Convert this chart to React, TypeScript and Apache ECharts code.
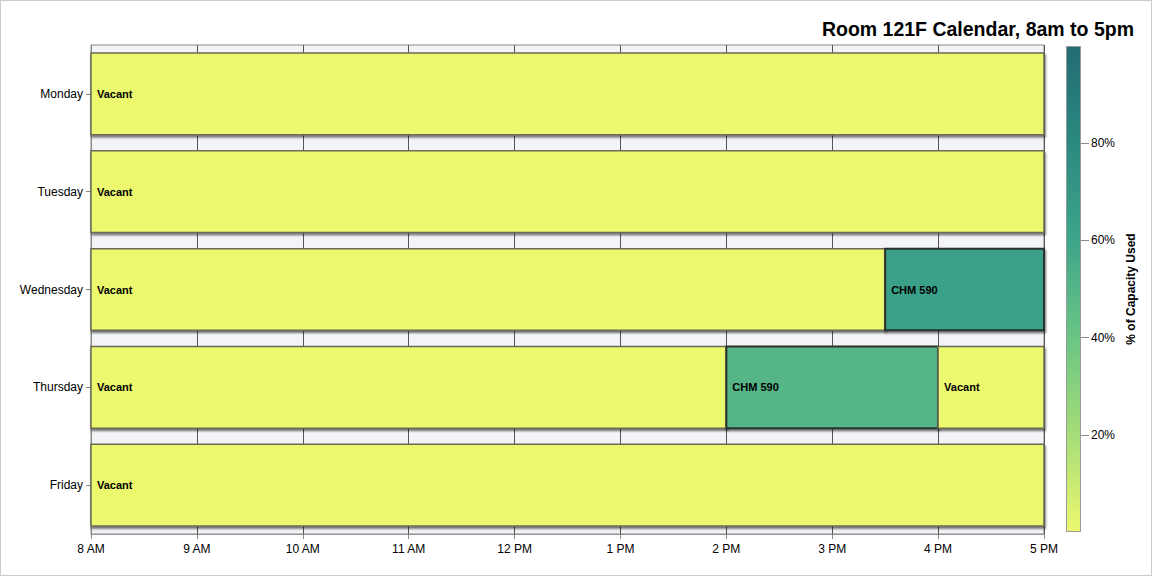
import React, { useEffect, useRef } from "react";
import * as echarts from "echarts";

const days = ["Monday", "Tuesday", "Wednesday", "Thursday", "Friday"];
const hourTicks = [8, 9, 10, 11, 12, 13, 14, 15, 16, 17];
const hourLabels = ["8 AM", "9 AM", "10 AM", "11 AM", "12 PM", "1 PM", "2 PM", "3 PM", "4 PM", "5 PM"];

const segDay = [0, 1, 2, 2, 3, 3, 3, 4];
const segStart = [8, 8, 8, 15.5, 8, 14, 16, 8];
const segEnd = [17, 17, 15.5, 17, 14, 16, 17, 17];
const segLabel = ["Vacant", "Vacant", "Vacant", "CHM 590", "Vacant", "CHM 590", "Vacant", "Vacant"];
const segCapacity = [0, 0, 0, 64, 0, 50, 0, 0];

const legendTicks = [20, 40, 60, 80];
const rampColors = ["#ecf86e", "#a5dd78", "#6ac584", "#3ea58a", "#2a8a80", "#236b73"];

export default function App() {
  const ref = useRef<HTMLDivElement>(null);
  useEffect(() => {
    document.body.style.margin = "0";
    const chart = echarts.init(ref.current!, null, { renderer: "svg" });
    const data = segDay.map((d, i) => [d, segStart[i], segEnd[i], segCapacity[i], segLabel[i]]);
    const font = "Arial, 'Liberation Sans', sans-serif";
    chart.setOption({
      animation: false,
      backgroundColor: "#fff",
      title: {
        text: "Room 121F Calendar, 8am to 5pm",
        right: 12,
        top: 13,
        textStyle: { fontSize: 19.5, fontWeight: "bold", color: "#000", fontFamily: font },
      },
      visualMap: {
        show: false,
        type: "continuous",
        min: 0,
        max: 100,
        dimension: 3,
        seriesIndex: 0,
        inRange: { color: rampColors },
      },
      grid: [
        {
          left: 90,
          right: 107,
          top: 44,
          bottom: 41,
          show: true,
          backgroundColor: "#f3f4f7",
          borderColor: "#888",
          borderWidth: 1,
        },
        { left: 1065, width: 15, top: 45, bottom: 43, show: false },
      ],
      xAxis: [
        {
          type: "value",
          gridIndex: 0,
          min: 8,
          max: 17,
          interval: 1,
          axisLine: { show: true, lineStyle: { color: "#999" } },
          axisTick: { show: true, length: 5, lineStyle: { color: "#888" } },
          axisLabel: {
            color: "#000",
            fontSize: 12,
            fontFamily: font,
            margin: 9,
            formatter: (v: number) => hourLabels[hourTicks.indexOf(v)] ?? "",
          },
          splitLine: { show: true, lineStyle: { color: "#555", width: 1 } },
        },
        { type: "category", gridIndex: 1, data: ["c"], show: false },
      ],
      yAxis: [
        {
          type: "category",
          gridIndex: 0,
          data: days,
          inverse: true,
          axisLine: { show: true, lineStyle: { color: "#888" } },
          axisTick: { show: true, alignWithLabel: true, length: 5, lineStyle: { color: "#888" } },
          axisLabel: { color: "#000", fontSize: 12, fontFamily: font, margin: 8 },
          splitLine: { show: false },
        },
        {
          type: "value",
          gridIndex: 1,
          min: 0,
          max: 100,
          position: "right",
          name: "% of Capacity Used",
          nameLocation: "middle",
          nameGap: 44,
          nameRotate: 90,
          nameTextStyle: { color: "#000", fontSize: 12, fontWeight: "bold", fontFamily: font },
          axisLine: { show: false },
          axisTick: { show: true, length: 8, customValues: legendTicks, lineStyle: { color: "#888" } },
          axisLabel: {
            color: "#000",
            fontSize: 12,
            fontFamily: font,
            margin: 10,
            customValues: legendTicks,
            formatter: (v: number) => v + "%",
          },
          splitLine: { show: false },
        },
      ],
      series: [
        {
          type: "custom",
          xAxisIndex: 0,
          yAxisIndex: 0,
          encode: { x: [1, 2], y: 0 },
          data,
          renderItem: (params: any, api: any) => {
            const day = api.value(0);
            const p0 = api.coord([api.value(1), day]);
            const p1 = api.coord([api.value(2), day]);
            const h = api.size([0, 1])[1] * 0.835;
            const color = api.visual("color");
            const occupied = api.value(3) > 0;
            return {
              type: "group",
              children: [
                {
                  type: "rect",
                  shape: { x: p0[0], y: p0[1] - h / 2, width: p1[0] - p0[0], height: h },
                  style: {
                    fill: color,
                    stroke: occupied ? "#2b332f" : "#6a6a55",
                    lineWidth: occupied ? 2 : 1.5,
                    shadowColor: "rgba(0,0,0,0.55)",
                    shadowOffsetY: 2,
                    shadowOffsetX: 1,
                    shadowBlur: 2,
                  },
                },
                {
                  type: "text",
                  style: {
                    text: api.value(4),
                    x: p0[0] + 6,
                    y: p0[1],
                    verticalAlign: "middle",
                    align: "left",
                    fill: "#000",
                    font: "bold 11px Arial, 'Liberation Sans', sans-serif",
                  },
                },
              ],
            };
          },
        },
        {
          type: "bar",
          xAxisIndex: 1,
          yAxisIndex: 1,
          data: [100],
          barWidth: "100%",
          silent: true,
          itemStyle: {
            borderColor: "#999",
            borderWidth: 1,
            color: new echarts.graphic.LinearGradient(
              0,
              1,
              0,
              0,
              rampColors.map((c, i) => ({ offset: i / (rampColors.length - 1), color: c }))
            ),
          },
        },
      ],
    });
    return () => chart.dispose();
  }, []);
  return (
    <div
      ref={ref}
      style={{ width: 1152, height: 576, border: "1px solid #ccc", boxSizing: "border-box" }}
    />
  );
}
